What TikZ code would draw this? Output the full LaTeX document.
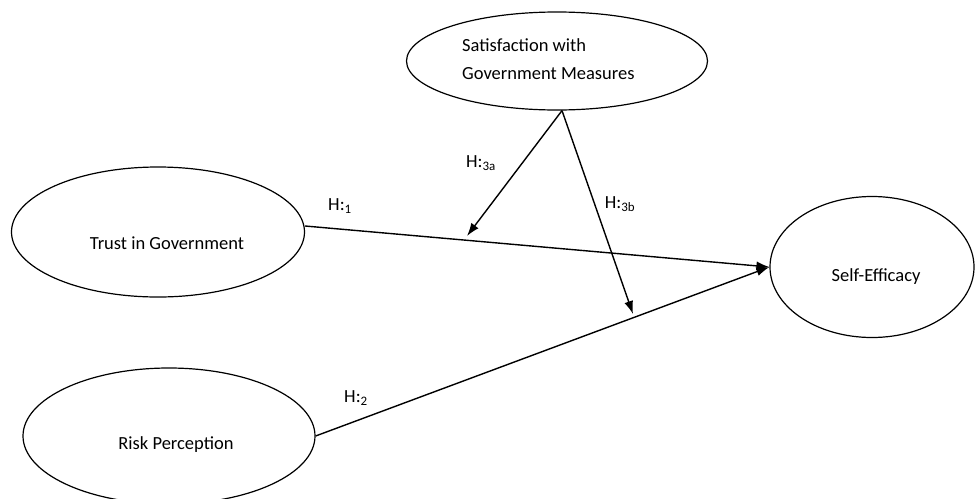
\documentclass[tikz,border=0pt]{standalone}
\usepackage{fontspec}
\setmainfont{Carlito}
\usepackage{tikz}
\usetikzlibrary{positioning, arrows.meta, shapes.geometric, calc}
\definecolor{LineColor}{RGB}{0,0,0}
\tikzstyle{construct} = [ellipse, draw, LineColor, line width=1.2pt, inner sep=0pt]
\tikzstyle{caption} = [font=\fontsize{18.5}{28}\selectfont, inner sep=0pt]
\tikzstyle{arrow} = [line width=1.4pt, LineColor, -{Latex[length=13pt, width=9pt]}]
\tikzstyle{hyp} = [font=\fontsize{18.5}{22}\selectfont]
\newcommand{\hyplabel}[1]{H:\textsubscript{#1}}

\begin{document}
\begin{tikzpicture}[x=1pt, y=-1pt]
    \useasboundingbox (0,0) rectangle (976,498);
    % Constructs
    \node[construct, minimum width=301pt, minimum height=98pt] (satis) at (557,61) {};
    \node[construct, minimum width=293pt, minimum height=130pt] (trust) at (158,232) {};
    \node[construct, minimum width=292pt, minimum height=136pt] (risk) at (169,436) {};
    \node[construct, minimum width=204pt, minimum height=141pt] (self) at (872,267) {};

    % Construct names
    \node[caption, align=left, anchor=west] (satistext) at (462,59) {Satisfaction with\\Government Measures};
    \node[caption] (trusttext) at (167,243) {Trust in Government};
    \node[caption] (risktext) at (176,445) {Risk Perception};
    \node[caption] (selftext) at (876,277) {Self-Efficacy};

    % Moderation targets
    \coordinate (m1) at (467,236);
    \coordinate (m2) at (633,314);

    % Paths
    \draw[arrow] (trust.east) ++(0,-6) -- (self.west);
    \draw[arrow] (risk.east) -- (self.west);
    \draw[arrow] ([xshift=5pt]satis.south) -- (m1);
    \draw[arrow] ([xshift=5pt]satis.south) -- (m2);

    % Hypothesis labels
    \node[hyp] (h1) at (340,206) {\hyplabel{1}};
    \node[hyp] (h2) at (356,398) {\hyplabel{2}};
    \node[hyp] (h3a) at (481,163) {\hyplabel{3a}};
    \node[hyp] (h3b) at (620,204) {\hyplabel{3b}};
\end{tikzpicture}
\end{document}
